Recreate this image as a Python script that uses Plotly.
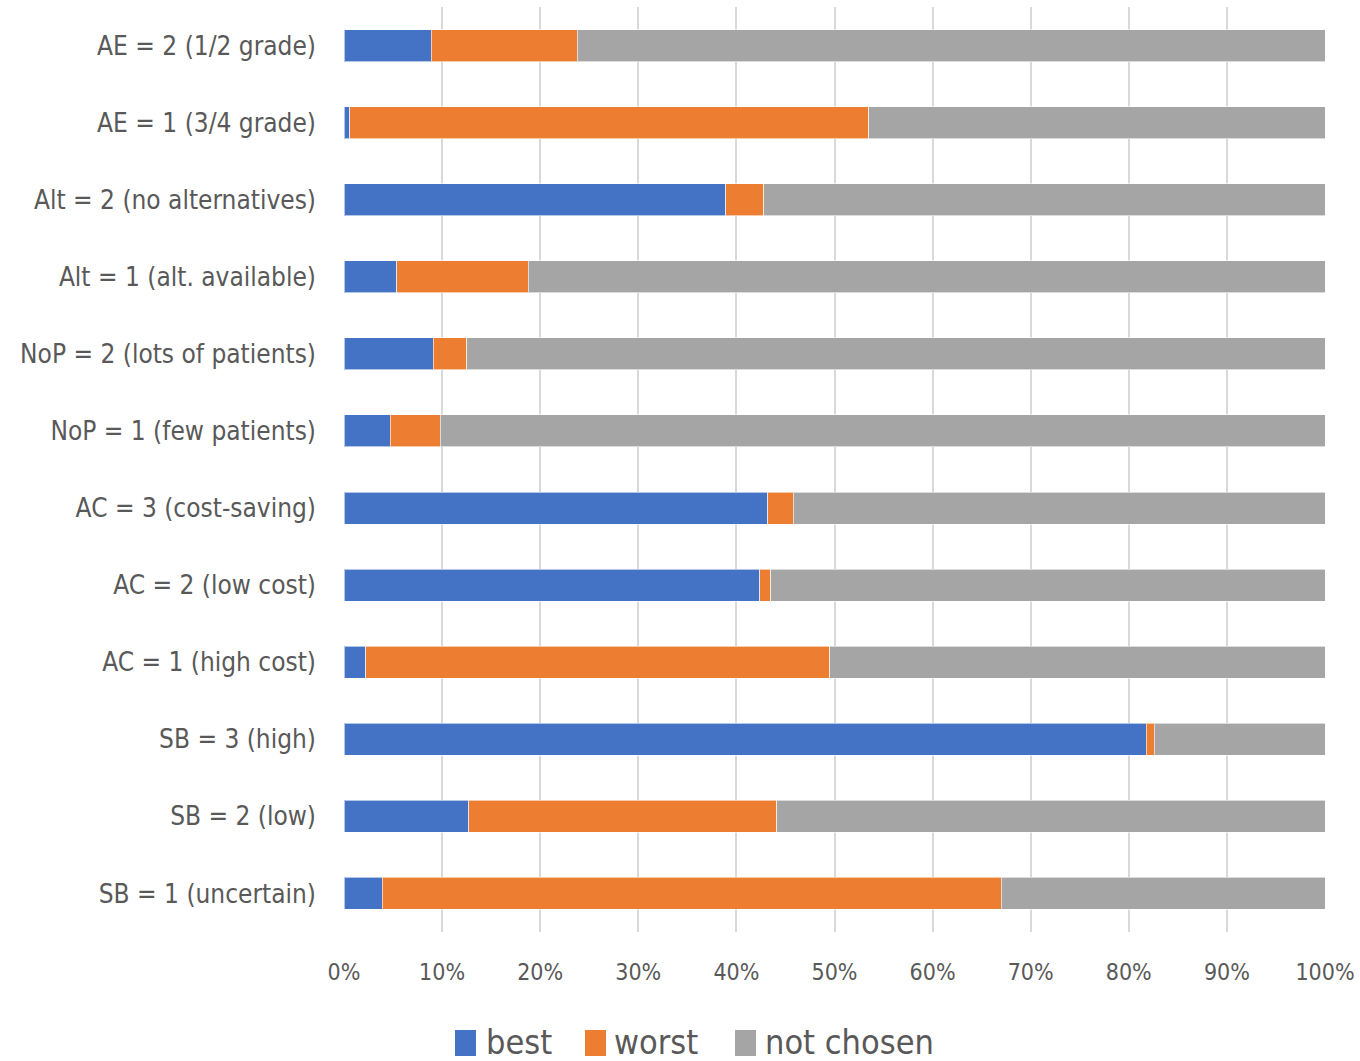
import plotly.graph_objects as go

categories = [
    "AE = 2 (1/2 grade)",
    "AE = 1 (3/4 grade)",
    "Alt = 2 (no alternatives)",
    "Alt = 1 (alt. available)",
    "NoP = 2 (lots of patients)",
    "NoP = 1 (few patients)",
    "AC = 3 (cost-saving)",
    "AC = 2 (low cost)",
    "AC = 1 (high cost)",
    "SB = 3 (high)",
    "SB = 2 (low)",
    "SB = 1 (uncertain)",
]
best = [8.9, 0.6, 38.9, 5.4, 9.1, 4.7, 43.2, 42.4, 2.2, 81.8, 12.7, 3.9]
worst = [14.9, 52.9, 3.9, 13.4, 3.4, 5.1, 2.6, 1.1, 47.3, 0.8, 31.4, 63.1]
not_chosen = [76.2, 46.5, 57.2, 81.2, 87.5, 90.2, 54.2, 56.5, 50.5, 17.4, 55.9, 33.0]
series_names = ["best", "worst", "not chosen"]
colors = ["#4472C4", "#ED7D31", "#A5A5A5"]
tick_vals = [0, 10, 20, 30, 40, 50, 60, 70, 80, 90, 100]
tick_text = ["0%", "10%", "20%", "30%", "40%", "50%", "60%", "70%", "80%", "90%", "100%"]

FONT = "DejaVu Sans Condensed, Liberation Sans Narrow, Lato, sans-serif"
TXT = "#595959"

W, H = 1360, 1061
ML, MR, MT, MB = 344, 35, 7, 129
PW = W - ML - MR
PH = H - MT - MB

fig = go.Figure()
for name, vals, col in zip(series_names, [best, worst, not_chosen], colors):
    fig.add_trace(go.Bar(
        y=categories, x=vals, name=name, orientation="h",
        marker=dict(color=col, line=dict(color="rgba(255,255,255,0.6)", width=1)),
        hoverinfo="x+y+name", showlegend=False,
    ))

# custom legend (bigger swatches like the original)
legend_sw_x = [455, 585, 735]
legend_tx_x = [484, 612, 763]
ly_top, ly_bot, ly_mid = 1030, 1056, 1042


def px(xp):
    return (xp - ML) / PW


def py(yp):
    return (MT + PH - yp) / PH


for name, col, sx, tx in zip(series_names, colors, legend_sw_x, legend_tx_x):
    fig.add_shape(type="rect", xref="paper", yref="paper",
                  x0=px(sx), x1=px(sx + 21), y0=py(ly_bot), y1=py(ly_top),
                  fillcolor=col, line=dict(width=0), layer="above")
    fig.add_annotation(text=name, xref="paper", yref="paper",
                       x=px(tx), y=py(ly_mid), xanchor="left", yanchor="middle",
                       showarrow=False, font=dict(size=34, family=FONT, color=TXT))

fig.update_layout(
    width=W, height=H,
    barmode="stack", bargap=0.585,
    paper_bgcolor="white", plot_bgcolor="white",
    margin=dict(l=ML, r=MR, t=MT, b=MB, autoexpand=False),
    font=dict(family=FONT, color=TXT),
    showlegend=False,
)
fig.update_xaxes(
    range=[0, 100], tickvals=tick_vals, ticktext=tick_text,
    showgrid=True, gridcolor="#D9D9D9", gridwidth=2,
    zeroline=False, showline=False, ticks="", automargin=False,
    tickfont=dict(size=23, family=FONT, color=TXT),
    ticklabelstandoff=24,
)
fig.update_yaxes(
    autorange="reversed", showgrid=False, zeroline=False,
    showline=False, ticks="", automargin=False,
    tickfont=dict(size=26, family=FONT, color=TXT),
    ticklabelstandoff=27,
)

fig.write_html("out.html")
